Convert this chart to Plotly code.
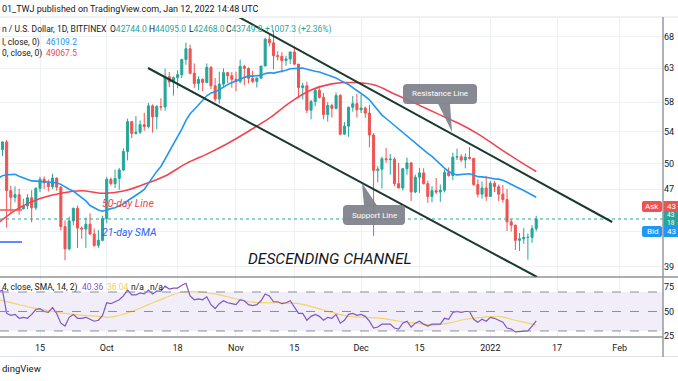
import plotly.graph_objects as go
import pandas as pd

# ---------------- data (BTC/USD 1D, Bitfinex) ----------------
dates = pd.date_range("2021-09-05", "2022-01-12", freq="D")

opens = [49950, 51750, 52700, 46850, 46100, 46400, 44850, 45150, 46050, 44950,
         47100, 48150, 47750, 47300, 48300, 47250, 42950, 40700, 43550, 44900,
         42800, 42700, 43200, 42200, 41050, 41550,
         43800, 48150, 47650, 48250, 49250, 51500, 55350, 53800, 53950, 54950,
         54700, 57500, 56000, 57400, 57350, 61700, 60900, 61550, 62000, 64300,
         66000, 62200, 60700, 61300, 60850, 63100, 60350, 58450, 60600, 62300, 61850,
         61300, 61000, 63250, 62950, 61450, 61000, 61500, 63300, 67550, 66950,
         64900, 64800, 64150, 64400, 65500, 63600, 60100, 60350, 56900, 58100,
         59700, 58700, 56300, 57550, 57150, 58950, 53700, 54750, 57300, 57800,
         56950, 57200, 56500, 53600, 49200, 49350, 50600, 50500, 50550, 47650,
         47150, 49400, 50100, 46700, 48400, 48900, 47650, 46200, 46850, 46700,
         46900, 48950, 48600, 50800, 50850, 50450, 50800, 50650, 47550, 46450, 47150,
         46200, 47700, 47300, 46450, 45850, 43450, 43100, 41550, 41700, 41850,
         41850, 42744.0]
highs = [51900, 52800, 52950, 47400, 47350, 47050, 45950, 46450, 46900, 47250,
         48450, 48500, 48150, 48800, 48350, 47350, 43600, 44000, 44950, 45200,
         42950, 43900, 44350, 42750, 42600, 44100,
         48450, 48350, 49300, 49500, 51900, 55750, 55400, 56100, 55500, 56550,
         57900, 57700, 57600, 58550, 62900, 62400, 61750, 62650, 64450, 67000,
         66650, 63700, 61750, 61450, 63700, 63300, 61500, 62450, 62950, 62350, 62400,
         62450, 64300, 63500, 63100, 62600, 61550, 63300, 67800, 68550, 69000,
         65600, 65450, 64900, 65500, 66350, 63600, 60800, 60950, 58350, 59850,
         60000, 59300, 58000, 57800, 59400, 59150, 55300, 57400, 58900, 59200,
         59050, 57400, 57650, 53850, 49700, 50850, 51950, 51200, 50800, 50100,
         49500, 50750, 50200, 48700, 49500, 49450, 48000, 47350, 48300, 47550,
         49300, 49550, 51350, 51850, 51150, 51250, 52050, 50700, 48150, 47900, 48550,
         47950, 47950, 47550, 47500, 47050, 43750, 43150, 42300, 42800, 42250,
         43100, 44095.0]
lows = [49500, 50950, 42850, 44400, 45550, 44200, 44750, 44800, 43400, 44700,
        46700, 47050, 46750, 47050, 46850, 42550, 39600, 40550, 43100, 40800,
        41700, 40800, 42100, 40900, 40800, 41450,
        43300, 47450, 47150, 46950, 49100, 50400, 53200, 53650, 53700, 54150,
        54450, 53900, 54350, 56850, 56850, 60150, 58950, 60000, 61500, 63500,
        62050, 60050, 59700, 59600, 60700, 59850, 58100, 57800, 60200, 60750, 60100,
        59550, 60700, 60400, 60700, 60750, 60100, 61350, 63300, 66400, 62800,
        64150, 62300, 63350, 63600, 63450, 58550, 58400, 56500, 55650, 57450,
        58500, 55650, 55350, 55900, 57000, 53550, 53650, 53350, 56700, 55900,
        56500, 55850, 52000, 42000, 47800, 47100, 50100, 48700, 47350, 47300,
        46850, 48700, 45700, 46550, 46600, 47550, 45500, 45550, 46450, 45600,
        46650, 48450, 48050, 50450, 50200, 49450, 50500, 47400, 46100, 45950, 45700,
        46200, 46700, 45700, 45500, 42500, 42450, 40600, 40500, 41200, 39650,
        41300, 42468.0]
closes = [51750, 52700, 46850, 46100, 46400, 44850, 45150, 46050, 44950, 47100,
          48150, 47750, 47300, 48300, 47250, 42950, 40700, 43550, 44900, 42800,
          42700, 43200, 42200, 41050, 41550, 43800,
          48150, 47650, 48250, 49250, 51500, 55350, 53800, 53950, 54950, 54700,
          57500, 56000, 57400, 57350, 61700, 60900, 61550, 62000, 64300, 66000,
          62200, 60700, 61300, 60850, 63100, 60350, 58450, 60600, 62300, 61850, 61300,
          61000, 63250, 62950, 61450, 61000, 61500, 63300, 67550, 66950, 64900,
          64800, 64150, 64400, 65500, 63600, 60100, 60350, 56900, 58100, 59700,
          58700, 56300, 57550, 57150, 58950, 53700, 54750, 57300, 57800, 56950,
          57200, 56500, 53600, 49200, 49350, 50600, 50500, 50550, 47650, 47150,
          49400, 50100, 46700, 48400, 48900, 47650, 46200, 46850, 46700, 46900,
          48950, 48600, 50800, 50850, 50450, 50800, 50650, 47550, 46450, 47150, 46200,
          47700, 47300, 46450, 45850, 43450, 43100, 41550, 41700, 41850, 41850,
          42742.5, 43749.8]

sma21 = [48257, 48578, 48683, 48746, 48731, 48519, 48341, 48185, 47966, 47938,
         47900, 47943, 47859, 47831, 47758, 47567, 47259, 47008, 46797, 46452,
         46107, 45700, 45200, 44924, 44707, 44584,
         44741, 44860, 44964, 45169, 45379, 45722, 46009, 46326, 46643, 46997,
         47690, 48419, 49079, 49671, 50571, 51438, 52311, 53255, 54361, 55527,
         56403, 57000, 57650, 58250, 58909, 59331, 59479, 59802, 60200, 60529, 60843,
         61010, 61355, 61619, 61814, 61781, 61810, 61893, 62157, 62284, 62231,
         62354, 62519, 62667, 62888, 62912, 62900, 62991, 62815, 62614, 62512,
         62388, 62164, 61893, 61617, 61498, 61150, 60828, 60538, 60074, 59602,
         59236, 58841, 58339, 57614, 56845, 56226, 55769, 55302, 54862, 54341,
         53850, 53441, 52983, 52547, 52155, 51617, 51259, 50883, 50378, 49860,
         49479, 49069, 48797, 48667, 48726, 48795, 48798, 48657, 48462, 48438, 48393,
         48312, 48179, 48167, 48045, 47786, 47569, 47348, 47103, 46871, 46631,
         46336, 46109.2]

sma50_dates = ["2021-09-05", "2021-09-10", "2021-09-15", "2021-09-20", "2021-09-25",
               "2021-09-30", "2021-10-05", "2021-10-10", "2021-10-15", "2021-10-20",
               "2021-10-25", "2021-10-30", "2021-11-04", "2021-11-09", "2021-11-14",
               "2021-11-19", "2021-11-24", "2021-11-29", "2021-12-04", "2021-12-09",
               "2021-12-14", "2021-12-19", "2021-12-24", "2021-12-29", "2022-01-03",
               "2022-01-08", "2022-01-12"]
sma50 = [43340, 44940, 45967, 46565, 46842, 46561, 46811, 47579, 48531, 50009,
         51174, 52507, 54078, 55813, 57995, 59740, 60632, 60827, 60497, 59175,
         57847, 56502, 55225, 53737, 51958, 50290, 49067.5]

rsi = [70, 72, 48, 46, 47, 43, 44, 43, 47, 52,
       53, 50, 49, 54, 48, 38, 35, 44, 47, 43,
       43, 44, 42, 40, 41, 46,
       59, 58, 60, 62, 66, 72, 67, 67, 69, 68,
       72, 68, 71, 71, 76, 73, 74, 74, 77, 79,
       66, 62, 63, 62, 65, 57, 53, 58, 61, 59, 58,
       57, 62, 61, 57, 56, 57, 61, 68, 66, 60,
       60, 58, 59, 61, 55, 48, 48, 41, 45, 47,
       45, 41, 44, 43, 47, 38, 41, 47, 48, 46,
       47, 45, 40, 33, 34, 37, 37, 37, 33, 32,
       38, 40, 34, 38, 40, 37, 35, 37, 37, 37,
       43, 42, 49, 50, 49, 50, 50, 42, 39, 42, 40,
       44, 43, 41, 39, 33, 32, 29, 29.5, 30, 30,
       35, 40.36]

rsi_ma_dates = ["2021-09-05", "2021-09-09", "2021-09-13", "2021-09-17", "2021-09-21",
                "2021-09-25", "2021-09-29", "2021-10-01", "2021-10-03", "2021-10-07",
                "2021-10-11", "2021-10-15", "2021-10-19", "2021-10-23", "2021-10-27",
                "2021-10-31", "2021-11-04", "2021-11-08", "2021-11-12", "2021-11-16",
                "2021-11-20", "2021-11-24", "2021-11-28", "2021-12-02", "2021-12-06",
                "2021-12-10", "2021-12-14", "2021-12-18", "2021-12-22", "2021-12-26",
                "2021-12-30", "2022-01-03", "2022-01-07", "2022-01-11", "2022-01-12"]
rsi_ma = [62, 58, 54, 51, 48, 46, 45, 44, 45, 50,
          57, 64, 70, 70, 68, 64, 60, 59, 59, 58,
          54, 49, 45, 44, 43, 40, 38, 36, 38, 42,
          44, 45, 41, 37, 36.04]

# drawings (trend lines) as date/price end points
resistance_dates = ["2021-11-01 05:45", "2022-01-30 05:00"]
resistance_prices = [71435, 43434]
support_dates = ["2021-10-10 21:40", "2022-01-12 04:20"]
support_prices = [63004, 38030]
red_mark_dates = ["2021-09-01", "2021-09-10 17:00"]
red_mark_prices = [44712, 44712]
blue_mark_dates = ["2021-09-01", "2021-09-10 17:00"]
blue_mark_prices = [41386, 41386]

price_ticks = [68000, 63000, 58000, 54000, 50000, 47000, 42500, 39000]
price_tick_text = ["68", "63", "58", "54", "50", "47", "", "39"]
rsi_ticks = [75, 50, 25]
date_ticks = ["2021-09-15", "2021-10-01", "2021-10-18", "2021-11-01", "2021-11-15",
              "2021-12-01", "2021-12-15", "2022-01-01", "2022-01-17", "2022-02-01"]
date_tick_text = ["15", "Oct", "18", "Nov", "15", "Dec", "15", "2022", "17", "Feb"]

# ---------------- styling / layout ----------------
W, H = 678, 381
PW = 663  # plot width (right axis at 663 px)
GREEN, RED = "#26a69a", "#ef5350"
BLUE_MA, RED_MA = "#2196f3", "#f0454f"
TXT = "#131722"
GRID = "#edf0f5"
FONT = "Roboto"
X_RANGE = ["2021-09-05 09:47", "2022-02-11 09:36"]


def px(x):
    return x / PW


def py(y):
    return 1 - y / H


fig = go.Figure()

fig.add_trace(go.Candlestick(
    x=dates, open=opens, high=highs, low=lows, close=closes,
    increasing=dict(line=dict(color=GREEN, width=1), fillcolor=GREEN),
    decreasing=dict(line=dict(color=RED, width=1), fillcolor=RED),
    whiskerwidth=0, hoverinfo="skip", xaxis="x", yaxis="y"))

fig.add_trace(go.Scatter(x=sma50_dates, y=sma50, mode="lines",
                         line=dict(color=RED_MA, width=1.6, shape="spline"),
                         hoverinfo="skip", xaxis="x", yaxis="y"))
fig.add_trace(go.Scatter(x=dates, y=sma21, mode="lines",
                         line=dict(color=BLUE_MA, width=1.6),
                         hoverinfo="skip", xaxis="x", yaxis="y"))

# last price dotted line
fig.add_trace(go.Scatter(x=X_RANGE, y=[closes[-1], closes[-1]], mode="lines",
                         line=dict(color=GREEN, width=1, dash="dot"),
                         hoverinfo="skip", xaxis="x", yaxis="y"))

# channel lines
for xs, ys in [(resistance_dates, resistance_prices), (support_dates, support_prices)]:
    fig.add_trace(go.Scatter(x=xs, y=ys, mode="lines",
                             line=dict(color="#1a3a30", width=2),
                             hoverinfo="skip", xaxis="x", yaxis="y"))
fig.add_trace(go.Scatter(x=red_mark_dates, y=red_mark_prices, mode="lines",
                         line=dict(color=RED, width=1.5), hoverinfo="skip",
                         xaxis="x", yaxis="y"))
fig.add_trace(go.Scatter(x=blue_mark_dates, y=blue_mark_prices, mode="lines",
                         line=dict(color="#2962ff", width=1.5), hoverinfo="skip",
                         xaxis="x", yaxis="y"))

# RSI
fig.add_trace(go.Scatter(x=rsi_ma_dates, y=rsi_ma, mode="lines",
                         line=dict(color="#f3d469", width=1.2, shape="spline"),
                         hoverinfo="skip", xaxis="x2", yaxis="y2"))
fig.add_trace(go.Scatter(x=dates, y=rsi, mode="lines",
                         line=dict(color="#7e57c2", width=1.2),
                         hoverinfo="skip", xaxis="x2", yaxis="y2"))

shapes = []
# RSI band and dashed levels
shapes.append(dict(type="rect", xref="paper", yref="y2", x0=0, x1=1, y0=30, y1=70,
                   fillcolor="rgba(126,87,194,0.10)", line=dict(width=0), layer="below"))
for lv in (70, 50, 30):
    shapes.append(dict(type="line", xref="paper", yref="y2", x0=0, x1=1, y0=lv, y1=lv,
                       line=dict(color="#8a8d96", width=1, dash="dash")))
# frame lines
shapes.append(dict(type="line", xref="paper", yref="paper", x0=0, x1=W / PW,
                   y0=py(17), y1=py(17), line=dict(color="#e0e3eb", width=1)))
shapes.append(dict(type="line", xref="paper", yref="paper", x0=0, x1=W / PW,
                   y0=py(277), y1=py(277), line=dict(color="#5d606b", width=1.2)))
shapes.append(dict(type="line", xref="paper", yref="paper", x0=0, x1=1,
                   y0=py(337), y1=py(337), line=dict(color="#5d606b", width=1.2)))
shapes.append(dict(type="line", xref="paper", yref="paper", x0=0, x1=W / PW,
                   y0=py(356.5), y1=py(356.5), line=dict(color="#e0e3eb", width=1)))
shapes.append(dict(type="line", xref="paper", yref="paper", x0=1, x1=1,
                   y0=py(17), y1=py(357), line=dict(color="#9598a1", width=1.5)))


def path_from(points):
    s = "M " + " L ".join(f"{px(a):.5f},{py(b):.5f}" for a, b in points) + " Z"
    return s


def rrect(x0, y0, x1, y1, r):
    return (f"M {px(x0 + r):.5f},{py(y0):.5f} L {px(x1 - r):.5f},{py(y0):.5f} "
            f"Q {px(x1):.5f},{py(y0):.5f} {px(x1):.5f},{py(y0 + r):.5f} "
            f"L {px(x1):.5f},{py(y1 - r):.5f} "
            f"Q {px(x1):.5f},{py(y1):.5f} {px(x1 - r):.5f},{py(y1):.5f} "
            f"L {px(x0 + r):.5f},{py(y1):.5f} "
            f"Q {px(x0):.5f},{py(y1):.5f} {px(x0):.5f},{py(y1 - r):.5f} "
            f"L {px(x0):.5f},{py(y0 + r):.5f} "
            f"Q {px(x0):.5f},{py(y0):.5f} {px(x0 + r):.5f},{py(y0):.5f} Z")


CALLOUT = "rgba(125,128,138,0.92)"
# Resistance callout
shapes.append(dict(type="path", xref="paper", yref="paper", path=rrect(403, 84, 477, 104, 4),
                   fillcolor=CALLOUT, line=dict(width=0)))
shapes.append(dict(type="path", xref="paper", yref="paper",
                   path=path_from([(438, 103.5), (450, 103.5), (452, 132)]),
                   fillcolor=CALLOUT, line=dict(width=0)))
# Support callout
shapes.append(dict(type="path", xref="paper", yref="paper", path=rrect(343, 205, 405, 225, 4),
                   fillcolor=CALLOUT, line=dict(width=0)))
shapes.append(dict(type="path", xref="paper", yref="paper",
                   path=path_from([(364, 205.5), (377, 205.5), (362, 183)]),
                   fillcolor=CALLOUT, line=dict(width=0)))

# right-axis price labels (Ask / last / Bid)
shapes.append(dict(type="path", xref="paper", yref="paper", path=rrect(642, 201, 662, 212, 2),
                   fillcolor=RED, line=dict(width=0)))
shapes.append(dict(type="rect", xref="paper", yref="paper", x0=px(663.5), x1=px(678),
                   y0=py(212), y1=py(201), fillcolor=RED, line=dict(width=0)))
shapes.append(dict(type="rect", xref="paper", yref="paper", x0=px(663.5), x1=px(678),
                   y0=py(226), y1=py(212), fillcolor=GREEN, line=dict(width=0)))
shapes.append(dict(type="path", xref="paper", yref="paper", path=rrect(642, 226, 662, 237, 2),
                   fillcolor="#2196f3", line=dict(width=0)))
shapes.append(dict(type="rect", xref="paper", yref="paper", x0=px(663.5), x1=px(678),
                   y0=py(237), y1=py(226), fillcolor="#2196f3", line=dict(width=0)))

annotations = []


def txt(x, y, text, color=TXT, size=8.5, anchor="left", family=FONT):
    annotations.append(dict(x=px(x), y=py(y), xref="paper", yref="paper", text=text,
                            showarrow=False, xanchor=anchor, yanchor="middle",
                            font=dict(color=color, size=size, family=family)))


txt(0, 9.5, "01_TWJ published on TradingView.com, Jan 12, 2022 14:48 UTC", size=9)
txt(0, 29, "n / U.S. Dollar, 1D, BITFINEX", size=8.5)
chg = closes[-1] - closes[-2]
pct = chg / closes[-2] * 100
txt(108, 29, f"O<span style='color:{GREEN}'>{opens[-1]:.1f}</span>")
txt(147, 29, f"H<span style='color:{GREEN}'>{highs[-1]:.1f}</span>")
txt(187, 29, f"L<span style='color:{GREEN}'>{lows[-1]:.1f}</span>")
txt(224, 29, f"C<span style='color:{GREEN}'>{closes[-1]:.1f}</span>")
txt(263, 29, f"+{chg:.1f} (+{pct:.2f}%)", color=GREEN)
txt(0, 42, "l, close, 0)")
txt(44, 42, f"{sma21[-1]:.1f}", color=BLUE_MA)
txt(0, 53, "0, close, 0)")
txt(44, 53, f"{sma50[-1]:.1f}", color=RED_MA)

txt(0, 287, "4, close, SMA, 14, 2)")
txt(80, 287, f"{rsi[-1]:.2f}", color="#7e57c2")
txt(105, 287, f"{rsi_ma[-1]:.2f}", color="#f0cf55")
txt(129, 287, "n/a")
txt(148, 287, "n/a")

txt(0, 368.5, "dingView", size=9.5)

txt(440, 94, "Resistance Line", color="white", size=8, anchor="center")
txt(374, 215, "Support Line", color="white", size=8, anchor="center")
txt(330, 259, "<i>DESCENDING CHANNEL</i>", color="#131722", size=15.5, anchor="center")
txt(100, 203, "<i>50-day Line</i>", color=RED_MA, size=10.5)
txt(100, 232, "<i>21-day SMA</i>", color="#2962ff", size=10.5)

txt(652, 206.5, "Ask", color="white", size=8, anchor="center")
txt(665, 206.5, "43", color="white", size=8)
txt(665, 215.5, "43", color="white", size=6.5)
txt(665, 222.5, "18", color="white", size=6.5)
txt(652, 231.5, "Bid", color="white", size=8, anchor="center")
txt(665, 231.5, "43", color="white", size=8)

fig.update_layout(
    width=W, height=H,
    margin=dict(l=0, r=W - PW, t=0, b=0, autoexpand=False),
    paper_bgcolor="white", plot_bgcolor="white",
    showlegend=False, hovermode=False,
    font=dict(family=FONT, color=TXT, size=9),
    shapes=shapes, annotations=annotations,
    xaxis=dict(domain=[0, 1], type="date", range=X_RANGE, anchor="y",
               tickvals=date_ticks, showticklabels=False, showgrid=True,
               gridcolor=GRID, gridwidth=1, zeroline=False, showline=False,
               rangeslider=dict(visible=False), ticks=""),
    xaxis2=dict(domain=[0, 1], type="date", range=X_RANGE, anchor="y2", matches="x",
                tickvals=date_ticks, ticktext=date_tick_text, showticklabels=True,
                showgrid=True, gridcolor=GRID, gridwidth=1, zeroline=False,
                showline=False, ticks="outside", ticklen=2,
                tickcolor="rgba(0,0,0,0)", tickfont=dict(size=9, color=TXT),
                automargin=False),
    yaxis=dict(domain=[py(277), py(18)], type="log", range=[4.58013, 4.85182],
               side="right", anchor="x", tickvals=price_ticks, ticktext=price_tick_text,
               showgrid=True, gridcolor=GRID, gridwidth=1, zeroline=False,
               showline=False, ticks="", tickfont=dict(size=9, color=TXT),
               automargin=False),
    yaxis2=dict(domain=[py(337), py(277)], range=[23.8, 85.4], side="right",
                anchor="x2", tickvals=rsi_ticks, showgrid=False, zeroline=False,
                showline=False, ticks="", tickfont=dict(size=9, color=TXT),
                automargin=False),
)

fig.write_html("out.html", config={"staticPlot": True},
               post_script="document.body.style.margin='0';document.body.style.overflow='hidden';")
